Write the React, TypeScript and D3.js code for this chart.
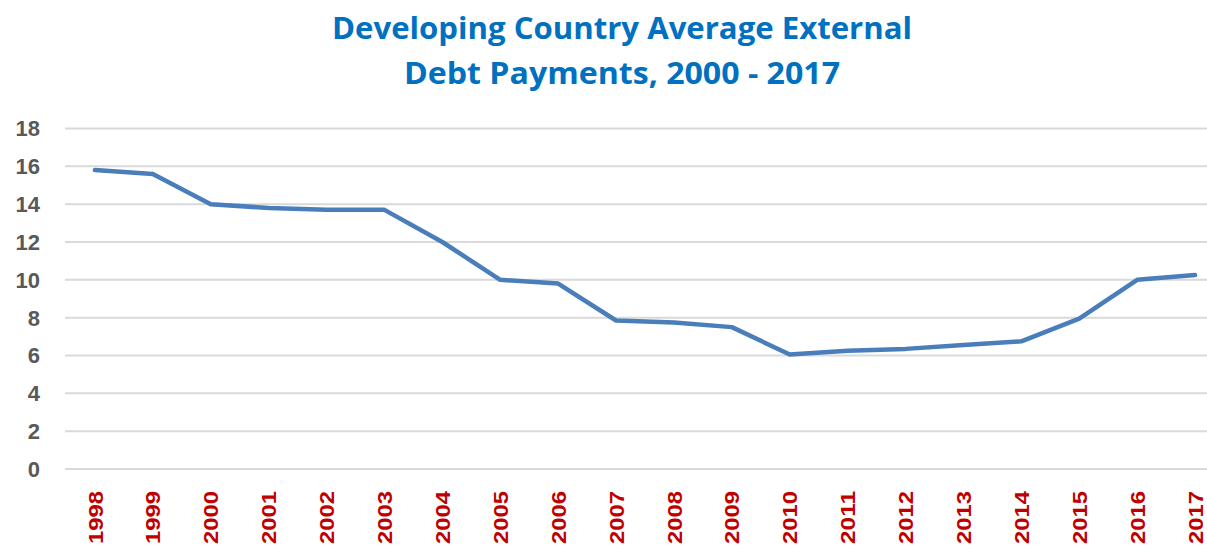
import React from "react";
import * as d3 from "d3";

const years = ["1998","1999","2000","2001","2002","2003","2004","2005","2006","2007","2008","2009","2010","2011","2012","2013","2014","2015","2016","2017"];
const payments = [15.8,15.6,14.0,13.8,13.7,13.7,12.0,10.0,9.8,7.85,7.75,7.5,6.05,6.25,6.35,6.55,6.75,7.95,10.0,10.25];
const yTicks = [0,2,4,6,8,10,12,14,16,18];
const titleLines = ["Developing Country Average External", "Debt Payments, 2000 - 2017"];

const W = 1207, H = 549;

export default function App() {
  const x = d3.scaleBand<string>().domain(years).range([66, 1224]);
  const y = d3.scaleLinear().domain([0, 18]).range([469, 128.5]);
  const line = d3.line<number>()
    .x((_, i) => (x(years[i]) as number) + x.bandwidth() / 2)
    .y((d) => y(d));
  return (
    <svg width={W} height={H} style={{ position: "absolute", left: 0, top: 0, background: "#fff" }}>
      <rect width={W} height={H} fill="#fff" />
      {titleLines.map((t, i) => (
        <text key={i} x={622} y={39 + i * 45} textAnchor="middle" fill="#0070C0"
          fontFamily="'Open Sans', sans-serif" fontWeight="bold" fontSize={30}
          textLength={i === 0 ? 580 : 436} lengthAdjust="spacingAndGlyphs">{t}</text>
      ))}
      {yTicks.map((t) => (
        <g key={t}>
          <line x1={65} x2={1207} y1={y(t)} y2={y(t)} stroke="#d9d9d9" strokeWidth={2} />
          <text x={40} y={y(t)} dy="0.36em" textAnchor="end" fill="#595959"
            fontFamily="'Liberation Sans', Arial, sans-serif" fontWeight="bold" fontSize={22}>{t}</text>
        </g>
      ))}
      <path d={line(payments) || ""} fill="none" stroke="#4A7EBB" strokeWidth={4.5} strokeLinejoin="round" strokeLinecap="round" />
      {years.map((yr) => {
        const cx = (x(yr) as number) + x.bandwidth() / 2;
        return (
          <text key={yr} transform={`translate(${cx},491) rotate(-90)`} dy="0.36em" textAnchor="end"
            fill="#C00000" fontFamily="'Liberation Sans', Arial, sans-serif" fontWeight="bold" fontSize={21}
            textLength={53} lengthAdjust="spacingAndGlyphs">{yr}</text>
        );
      })}
    </svg>
  );
}
